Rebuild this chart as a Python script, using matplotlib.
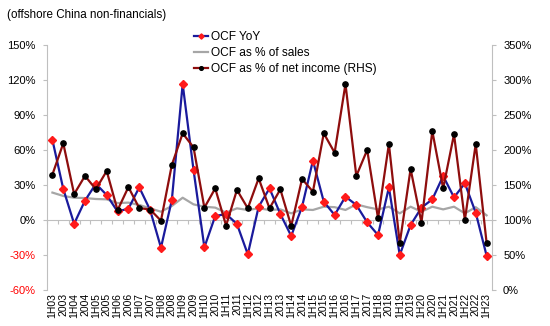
import matplotlib
matplotlib.use('Agg')
import matplotlib.pyplot as plt
import numpy as np
from matplotlib.ticker import FuncFormatter

plt.rcParams['font.family'] = ['Liberation Sans', 'DejaVu Sans']

# Period labels (half-year and full-year)
periods = []
for yr in range(3, 24):
    periods.append('1H%02d' % yr)
    if yr < 23:
        periods.append('20%02d' % yr)

# OCF YoY (%) - left axis
ocf_yoy = [68.6, 26.6, -3.2, 16.6, 31.0, 21.4, 7.3, 9.7, 28.0, 8.6,
           -23.7, 17.0, 116.6, 42.9, -23.4, 3.4, 5.1, -3.4, -29.4, 11.4,
           27.1, 5.1, -13.7, 11.4, 50.9, 15.7, 4.3, 20.0, 12.9, -2.0,
           -12.9, 28.0, -30.0, -4.3, 10.6, 17.7, 37.7, 19.4, 31.4, 6.3,
           -30.5]

# OCF as % of sales - left axis
ocf_sales = [23.5, 20.6, 19.1, 18.8, 18.0, 17.7, 14.5, 14.9, 12.9, 10.0,
             7.1, 12.0, 19.1, 13.4, 11.4, 10.6, 6.3, 10.0, 8.6, 10.0,
             8.6, 9.1, 5.7, 9.1, 8.6, 11.4, 11.0, 8.6, 13.4, 11.0,
             9.1, 11.4, 5.7, 11.4, 7.1, 11.4, 9.1, 11.4, 5.7, 11.0,
             4.0]

# OCF as % of net income - right axis
ocf_ni = [165.0, 209.5, 137.0, 163.0, 144.0, 170.0, 114.0, 147.0, 117.0, 115.0,
          99.0, 178.6, 223.8, 203.8, 117.6, 145.2, 92.0, 143.0, 116.7, 159.5,
          116.7, 143.8, 91.4, 158.6, 140.5, 223.8, 196.2, 294.3, 162.9, 200.0,
          102.4, 208.6, 66.7, 172.9, 96.2, 227.0, 145.2, 222.4, 100.0, 208.6,
          67.6]

x = np.arange(len(periods))
axis_grey = '#BFBFBF'

fig = plt.figure(figsize=(5.5, 3.26), dpi=100)
ax = fig.add_axes([47 / 550, 1 - 290 / 326, 445 / 550, 245 / 326])

l1, = ax.plot(x, ocf_yoy, color='#1A1A9C', lw=1.6, marker='D', ms=3.8,
              mfc='#FF1A1A', mec='#FF1A1A', label='OCF YoY', zorder=3)
l2, = ax.plot(x, ocf_sales, color='#A6A6A6', lw=1.6, label='OCF as % of sales', zorder=2)

ax.set_xlim(-0.5, len(periods) - 0.5)
ax.set_ylim(-60, 150)
ax.set_yticks(np.arange(-60, 151, 30))
ax.yaxis.set_major_formatter(FuncFormatter(lambda v, p: '%d%%' % v))
for lab, v in zip(ax.get_yticklabels(), np.arange(-60, 151, 30)):
    lab.set_color('#FF0000' if v < 0 else 'black')
ax.tick_params(axis='y', labelsize=8, length=3, color=axis_grey, pad=5)

# period labels at the bottom, no tick marks there
ax.set_xticks(x)
ax.set_xticklabels(periods, rotation=90, fontsize=7.5)
ax.tick_params(axis='x', length=0, pad=2)

for s in ['top', 'bottom', 'right']:
    ax.spines[s].set_visible(False)
ax.spines['left'].set_color(axis_grey)

# category axis crossing at 0%
zero_pos = 60 / 210
sec = ax.secondary_xaxis(zero_pos)
sec.set_xticks(np.arange(-0.5, len(periods), 1))
sec.set_xticklabels([])
sec.tick_params(length=3, color=axis_grey, direction='out')
sec.spines['bottom'].set_color(axis_grey)
sec.spines['top'].set_visible(False)

# right axis
ax2 = ax.twinx()
l3, = ax2.plot(x, ocf_ni, color='#8E0D0D', lw=1.6, marker='o', ms=3.8,
               mfc='black', mec='black', label='OCF as % of net income (RHS)')
ax2.set_ylim(0, 350)
ax2.set_yticks(np.arange(0, 351, 50))
ax2.yaxis.set_major_formatter(FuncFormatter(lambda v, p: '%d%%' % v))
ax2.tick_params(axis='y', labelsize=8, length=3, color=axis_grey, pad=5)
for s in ['top', 'bottom', 'left']:
    ax2.spines[s].set_visible(False)
ax2.spines['right'].set_color(axis_grey)

fig.text(7 / 550, 1 - 15 / 326, '(offshore China non-financials)', fontsize=8.4, va='center')

fig.legend(handles=[l1, l2, l3], loc='upper left', bbox_to_anchor=(194 / 550, 1 - 31 / 326),
           frameon=False, fontsize=8.6, handlelength=1.2, handletextpad=0.25,
           labelspacing=0.35, borderaxespad=0, borderpad=0, markerscale=0.7)

fig.savefig('out.png', dpi=100)
